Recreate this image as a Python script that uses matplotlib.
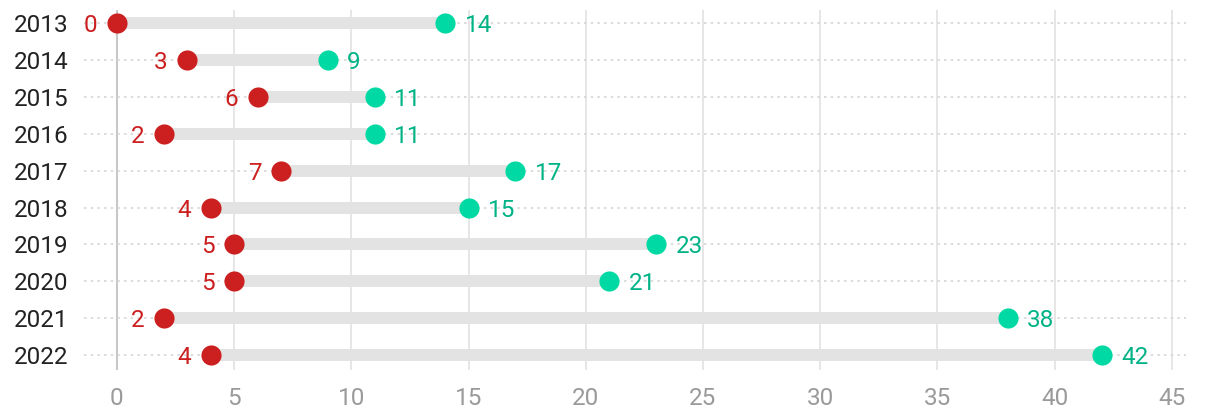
import matplotlib
matplotlib.use("Agg")
import matplotlib.pyplot as plt

plt.rcParams['font.family'] = ['Roboto', 'DejaVu Sans']

years = ["2013", "2014", "2015", "2016", "2017", "2018", "2019", "2020", "2021", "2022"]
low = [0, 3, 6, 2, 7, 4, 5, 5, 2, 4]
high = [14, 9, 11, 11, 17, 15, 23, 21, 38, 42]

RED = "#cc1f1f"
GREEN = "#00d9a3"
GREEN_TXT = "#00b386"

fig = plt.figure(figsize=(12.2, 4.16), dpi=100)
ax = fig.add_axes([84 / 1220, 1 - 370 / 416, (1186 - 84) / 1220, 360 / 416])

ys = list(range(len(years)))

# grid
for x in range(5, 50, 5):
    ax.axvline(x, color="#e2e2e2", lw=1.2, zorder=0)
ax.axvline(0, color="#c8c8c8", lw=1.5, zorder=0)
for y in ys:
    ax.axhline(y, color="#d6d6d6", lw=1.2, ls=(0, (1.5, 2.5)), zorder=1)

# bars + dots
for y, lo, hi in zip(ys, low, high):
    ax.plot([lo, hi], [y, y], color="#e3e3e3", lw=8.6, solid_capstyle="butt", zorder=2)
ax.plot(low, ys, "o", color=RED, ms=14.5, mec="none", zorder=3)
ax.plot(high, ys, "o", color=GREEN, ms=14.5, mec="none", zorder=3)

for y, lo, hi in zip(ys, low, high):
    ax.annotate(str(lo), (lo, y), xytext=(-14, 0), textcoords="offset points",
                ha="right", va="center_baseline", color=RED, fontsize=17.5)
    ax.annotate(str(hi), (hi, y), xytext=(14, 0), textcoords="offset points",
                ha="left", va="center_baseline", color=GREEN_TXT, fontsize=17.5)

ax.set_xlim(-1.4, 45.6)
ax.set_ylim(len(years) - 1 + 0.41, -0.36)
ax.set_xticks(range(0, 50, 5))
ax.set_yticks(ys)
ax.set_yticklabels(years)
ax.tick_params(axis="x", length=0, labelsize=17.5, colors="#9a9a9a", pad=12)
ax.tick_params(axis="y", length=0, labelsize=17.5, labelcolor="#222222", pad=11.5)
for lbl in ax.get_yticklabels():
    lbl.set_va("center_baseline")
for s in ax.spines.values():
    s.set_visible(False)

fig.savefig("out.png", dpi=100)
